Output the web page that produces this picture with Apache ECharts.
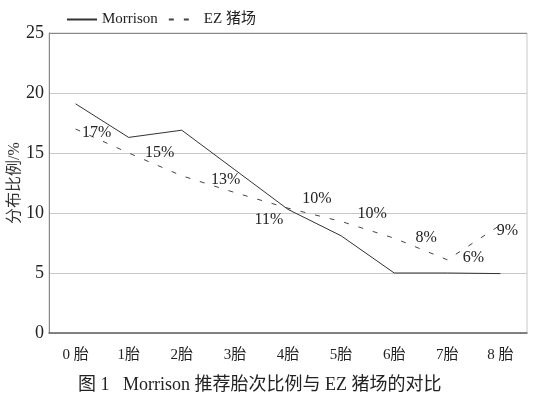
<!DOCTYPE html>
<html>
<head>
<meta charset="utf-8">
<script src="https://cdn.jsdelivr.net/npm/echarts@6/dist/echarts.min.js"></script>
<style>
html,body{margin:0;padding:0;background:#fff;}
#c{width:542px;height:395px;}
</style>
</head>
<body>
<div id="c"></div>
<script>
// ---- data ----
var categories = ['0 胎', '1胎', '2胎', '3胎', '4胎', '5胎', '6胎', '7胎', '8 胎'];
var morrisonValues = [19.1, 16.3, 16.9, 13.6, 10.3, 8.1, 5.0, 5.0, 4.95];
var ezValues = [17.0, 15.0, 13.1, 11.7, 10.4, 9.3, 7.9, 6.1, 9.0];
var ezLabels = ['17%', '15%', '13%', '11%', '10%', '10%', '8%', '6%', '9%'];
var yTicks = [0, 5, 10, 15, 20, 25];
var seriesNames = ['Morrison', 'EZ 猪场'];
var yAxisTitle = '分布比例/%';
var caption = '图 1   Morrison 推荐胎次比例与 EZ 猪场的对比';

// ---- label placement (style only) ----
var ezLabelOffsets = [[21,4],[31,0],[44,4],[34,27],[29,-9],[31,-8],[32,0],[26,-2],[7,6]];

var FONT = '"Liberation Serif", "Noto Sans CJK SC", serif';
var LABEL_STYLE = {fontFamily: FONT, fontSize: 16, color: '#222'};
var chart = echarts.init(document.getElementById('c'), null, {renderer: 'canvas'});

var ezData = ezValues.map(function (v, i) {
  return {
    value: v,
    label: Object.assign({
      show: true,
      position: 'inside',
      offset: ezLabelOffsets[i],
      formatter: function () { return ezLabels[i]; }
    }, LABEL_STYLE)
  };
});

var option = {
  animation: false,
  backgroundColor: '#fff',
  textStyle: {fontFamily: FONT},
  title: {
    text: caption,
    left: 73,
    top: 371,
    textStyle: {fontFamily: FONT, fontSize: 18, fontWeight: 'normal', color: '#222'}
  },
  legend: {
    left: 61,
    top: 7,
    itemWidth: 30,
    itemHeight: 10,
    itemGap: 10,
    itemStyle: {opacity: 0},
    textStyle: {fontFamily: FONT, fontSize: 15, color: '#222'},
    data: seriesNames
  },
  grid: {
    left: 49, right: 15, top: 33, bottom: 62,
    outerBoundsMode: 'none',
    containLabel: false,
    show: true, borderColor: '#c8c8c8', borderWidth: 1
  },
  xAxis: {
    type: 'category',
    data: categories,
    boundaryGap: true,
    axisLine: {lineStyle: {color: '#666', width: 1.5}},
    axisTick: {show: false},
    axisLabel: {margin: 15, fontFamily: FONT, fontSize: 15, color: '#222'}
  },
  yAxis: {
    type: 'value',
    min: yTicks[0],
    max: yTicks[yTicks.length - 1],
    interval: yTicks[1] - yTicks[0],
    name: yAxisTitle,
    nameLocation: 'middle',
    nameGap: 26,
    nameMoveOverlap: false,
    nameTextStyle: {fontFamily: FONT, fontSize: 16, color: '#333'},
    axisLine: {show: true, lineStyle: {color: '#888', width: 1}},
    axisTick: {show: false},
    axisLabel: {margin: 5, fontFamily: FONT, fontSize: 18, color: '#222'},
    splitLine: {lineStyle: {color: ['#c8c8c8','#c8c8c8','#c8c8c8','#c8c8c8','#c8c8c8','#888'], width: 1}}
  },
  series: [
    {
      name: seriesNames[0],
      type: 'line',
      data: morrisonValues,
      symbol: 'none',
      color: '#333',
      lineStyle: {color: '#333', width: 1}
    },
    {
      name: seriesNames[1],
      type: 'line',
      data: ezData,
      symbol: 'circle',
      symbolSize: 2,
      showSymbol: true,
      color: '#444',
      itemStyle: {color: 'rgba(0,0,0,0)', borderWidth: 0},
      lineStyle: {color: '#444', width: 1, type: [5, 10]},
      label: Object.assign({show: true}, LABEL_STYLE)
    }
  ]
};
chart.setOption(option);
</script>
</body>
</html>
